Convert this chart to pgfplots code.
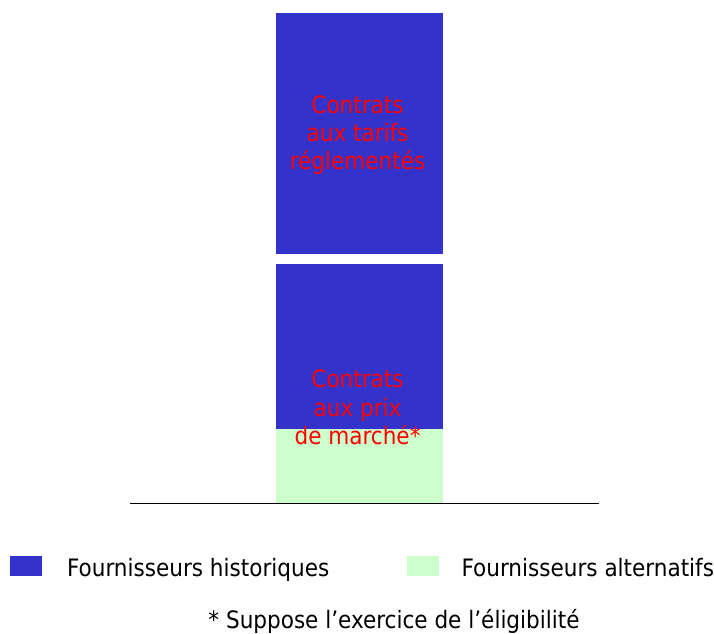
\documentclass[border=0pt]{standalone}
\usepackage{pgfplots}
\pgfplotsset{compat=1.18}
\usepackage{fontspec}
\setmainfont{DejaVu Sans Condensed}
\definecolor{histo}{HTML}{3333CC}
\definecolor{alter}{HTML}{CCFFCC}
\definecolor{lbl}{HTML}{FF0000}
\tikzset{big/.style={font=\fontsize{24}{28}\selectfont}}

\begin{document}
\begin{tikzpicture}
\begin{axis}[
  width=714pt, height=633pt, scale only axis,
  xmin=0, xmax=714, ymin=-129, ymax=504,
  hide axis, clip=false,
  ybar stacked, bar width=168,
]
% stack, from the baseline up: alternatifs, historiques (marche), gap, historiques (tarifs)
\addplot[fill=alter, draw=none] coordinates {(360,74)};
\addplot[fill=histo, draw=none] coordinates {(360,166)};
\addplot[fill=white, draw=none] coordinates {(360,10)};
\addplot[fill=histo, draw=none] coordinates {(360,241)};
\end{axis}
\begin{axis}[
  width=714pt, height=633pt, scale only axis,
  xmin=0, xmax=714, ymin=-129, ymax=504,
  hide axis, clip=false,
]
\addplot[draw=none, forget plot] coordinates {(0,-129) (714,504)};
\addplot[black, line width=1.3pt] coordinates {(130,0) (600,0)};
\node[big, text=lbl, anchor=base] at (axis cs:358,390.7) {Contrats};
\node[big, text=lbl, anchor=base] at (axis cs:358,362.3) {aux tarifs};
\node[big, text=lbl, anchor=base] at (axis cs:358,334) {réglementés};
\node[big, text=lbl, anchor=base] at (axis cs:358,115.7) {Contrats};
\node[big, text=lbl, anchor=base] at (axis cs:358,87.3) {aux prix};
\node[big, text=lbl, anchor=base] at (axis cs:358,59) {de marché*};
\fill[histo] (axis cs:10,-53) rectangle (axis cs:42,-73);
\fill[alter] (axis cs:408,-53) rectangle (axis cs:440,-73);
\node[big, anchor=base west, inner sep=0pt] at (axis cs:67,-73) {Fournisseurs historiques};
\node[big, anchor=base west, inner sep=0pt] at (axis cs:462,-73) {Fournisseurs alternatifs};
\node[big, anchor=base, inner sep=0pt] at (axis cs:394.5,-125) {* Suppose l’exercice de l’éligibilité};
\end{axis}
\end{tikzpicture}
\end{document}
